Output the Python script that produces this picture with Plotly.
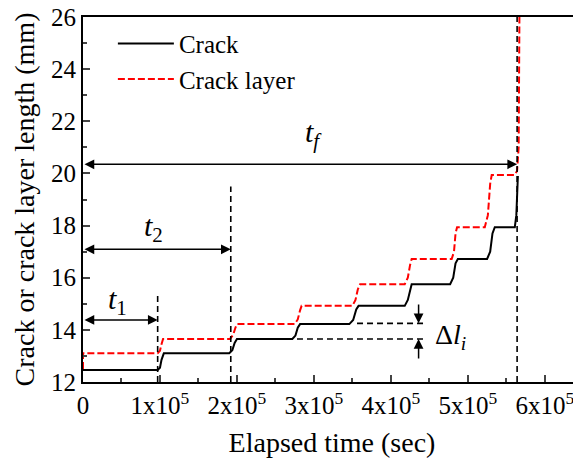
import plotly.graph_objects as go

# crack length (black solid) - time in units of 1e5 s
crack_time = [0, 0.97, 1.00, 1.02, 1.05, 1.90, 1.94, 1.97, 2.00, 2.72, 2.76, 2.79, 2.82,
              3.46, 3.51, 3.55, 3.58, 4.18, 4.22, 4.25, 4.27, 4.77, 4.81, 4.84, 4.87,
              5.25, 5.29, 5.32, 5.35, 5.61, 5.63, 5.65]
crack_len = [12.46, 12.46, 12.55, 12.85, 13.10, 13.10, 13.22, 13.50, 13.65, 13.65, 13.78, 14.08, 14.22,
             14.22, 14.38, 14.78, 14.92, 14.92, 15.15, 15.60, 15.75, 15.75, 16.00, 16.55, 16.72,
             16.72, 17.00, 17.70, 17.94, 17.94, 18.40, 19.90]

# crack layer length (red dashed)
layer_time = [0, 0, 0.97, 1.00, 1.02, 1.04, 1.91, 1.95, 1.98, 2.00, 2.75, 2.79, 2.82, 2.84,
              3.50, 3.54, 3.57, 3.60, 4.18, 4.22, 4.25, 4.27, 4.79, 4.82, 4.84, 4.86,
              5.22, 5.26, 5.29, 5.31, 5.61, 5.64, 5.66, 5.67]
layer_len = [12.50, 13.10, 13.10, 13.20, 13.45, 13.65, 13.65, 13.80, 14.08, 14.22, 14.22, 14.40, 14.75, 14.92,
             14.92, 15.15, 15.55, 15.75, 15.75, 16.00, 16.50, 16.72, 16.72, 17.00, 17.70, 17.94,
             17.94, 18.40, 19.60, 19.94, 19.94, 20.10, 21.00, 26.00]

# time markers t1, t2, tf and the delta l marker
t1, t1_top, t1_arrow = 0.97e5, 15.45, 14.38
t2, t2_top, t2_arrow = 1.92e5, 19.5, 17.09
tf, tf_arrow = 5.64e5, 20.35
dl_upper, dl_lower = 14.25, 13.65
dl_upper_start, dl_lower_start, dl_end = 3.56e5, 2.78e5, 4.44e5
dl_x, dl_top_tail, dl_bot_tail = 4.36e5, 15.03, 12.84

xticks = [0, 1e5, 2e5, 3e5, 4e5, 5e5, 6e5]
xticklabels = ['0', '1x10<sup>5</sup>', '2x10<sup>5</sup>', '3x10<sup>5</sup>',
               '4x10<sup>5</sup>', '5x10<sup>5</sup>', '6x10<sup>5</sup>']
yticks = [12, 14, 16, 18, 20, 22, 24, 26]

FONT = 'Times New Roman, Liberation Serif, DejaVu Serif, serif'

fig = go.Figure()
fig.add_trace(go.Scatter(x=[t * 1e5 for t in crack_time], y=crack_len, mode='lines', name='Crack',
                         line=dict(color='black', width=2)))
fig.add_trace(go.Scatter(x=[t * 1e5 for t in layer_time], y=layer_len, mode='lines', name='Crack layer',
                         line=dict(color='red', width=2, dash='7px,3px')))

dash_line = dict(color='black', width=1.6, dash='6px,4px')
fig.add_shape(type='line', x0=t1, x1=t1, y0=12, y1=t1_top, line=dash_line)
fig.add_shape(type='line', x0=t2, x1=t2, y0=12, y1=t2_top, line=dash_line)
fig.add_shape(type='line', x0=tf, x1=tf, y0=12, y1=26, line=dash_line)
fig.add_shape(type='line', x0=dl_upper_start, x1=dl_end, y0=dl_upper, y1=dl_upper, line=dash_line)
fig.add_shape(type='line', x0=dl_lower_start, x1=dl_end, y0=dl_lower, y1=dl_lower, line=dash_line)

# double headed arrows
for xe, ya in [(t1, t1_arrow), (t2, t2_arrow), (tf, tf_arrow)]:
    fig.add_annotation(x=xe, y=ya, ax=0, ay=ya, axref='x', ayref='y', text='',
                       showarrow=True, arrowside='end+start', arrowhead=2, arrowsize=1.3,
                       arrowwidth=1.5, arrowcolor='black')
# delta l arrows
fig.add_annotation(x=dl_x, y=dl_upper, ax=dl_x, ay=dl_top_tail, axref='x', ayref='y', text='',
                   showarrow=True, arrowhead=2, arrowsize=1.3, arrowwidth=1.5, arrowcolor='black')
fig.add_annotation(x=dl_x, y=dl_lower, ax=dl_x, ay=dl_bot_tail, axref='x', ayref='y', text='',
                   showarrow=True, arrowhead=2, arrowsize=1.3, arrowwidth=1.5, arrowcolor='black')

# labels
lab_font = dict(family=FONT, size=30, color='black')
fig.add_annotation(x=0.45e5, y=15.1, text='<i>t</i><sub>1</sub>', showarrow=False, font=lab_font)
fig.add_annotation(x=0.91e5, y=17.9, text='<i>t</i><sub>2</sub>', showarrow=False, font=lab_font)
fig.add_annotation(x=2.99e5, y=21.5, text='<i>t</i><sub><i>f</i></sub>', showarrow=False, font=lab_font)
fig.add_annotation(x=4.77e5, y=13.75, text='\u0394<i>l</i><sub><i>i</i></sub>', showarrow=False,
                   font=dict(family=FONT, size=28, color='black'))

# the page body adds an 8px offset, so the figure is 8px smaller than the window
fig.update_layout(
    width=573, height=458,
    margin=dict(l=75, r=0, t=9, b=84),
    paper_bgcolor='white', plot_bgcolor='white',
    font=dict(family=FONT, size=24, color='black'),
    showlegend=True,
    legend=dict(x=0.06, y=0.99, xanchor='left', yanchor='top', bgcolor='rgba(0,0,0,0)',
                font=dict(family=FONT, size=25), itemwidth=56),
    xaxis=dict(range=[0, 6.47e5], tickvals=xticks, ticktext=xticklabels, ticks='inside', ticklen=7,
               tickwidth=1.5, showline=True, linewidth=2, linecolor='black', mirror=True,
               showgrid=False, zeroline=False, automargin=False, ticklabeloverflow='allow',
               minor=dict(dtick=0.5e5, ticks='inside', ticklen=4, tickwidth=1.5),
               title=dict(text='Elapsed time (sec)', font=dict(family=FONT, size=28), standoff=14),
               tickfont=dict(family=FONT, size=25)),
    yaxis=dict(range=[12, 26], tickvals=yticks, ticks='inside', ticklen=7, tickwidth=1.5,
               showline=True, linewidth=2, linecolor='black', showgrid=False, zeroline=False,
               automargin=False, ticklabeloverflow='allow',
               minor=dict(dtick=1, ticks='inside', ticklen=4, tickwidth=1.5),
               title=dict(text='Crack or crack layer length (mm)', font=dict(family=FONT, size=28), standoff=8),
               tickfont=dict(family=FONT, size=25)),
)

fig.write_html("out.html")
